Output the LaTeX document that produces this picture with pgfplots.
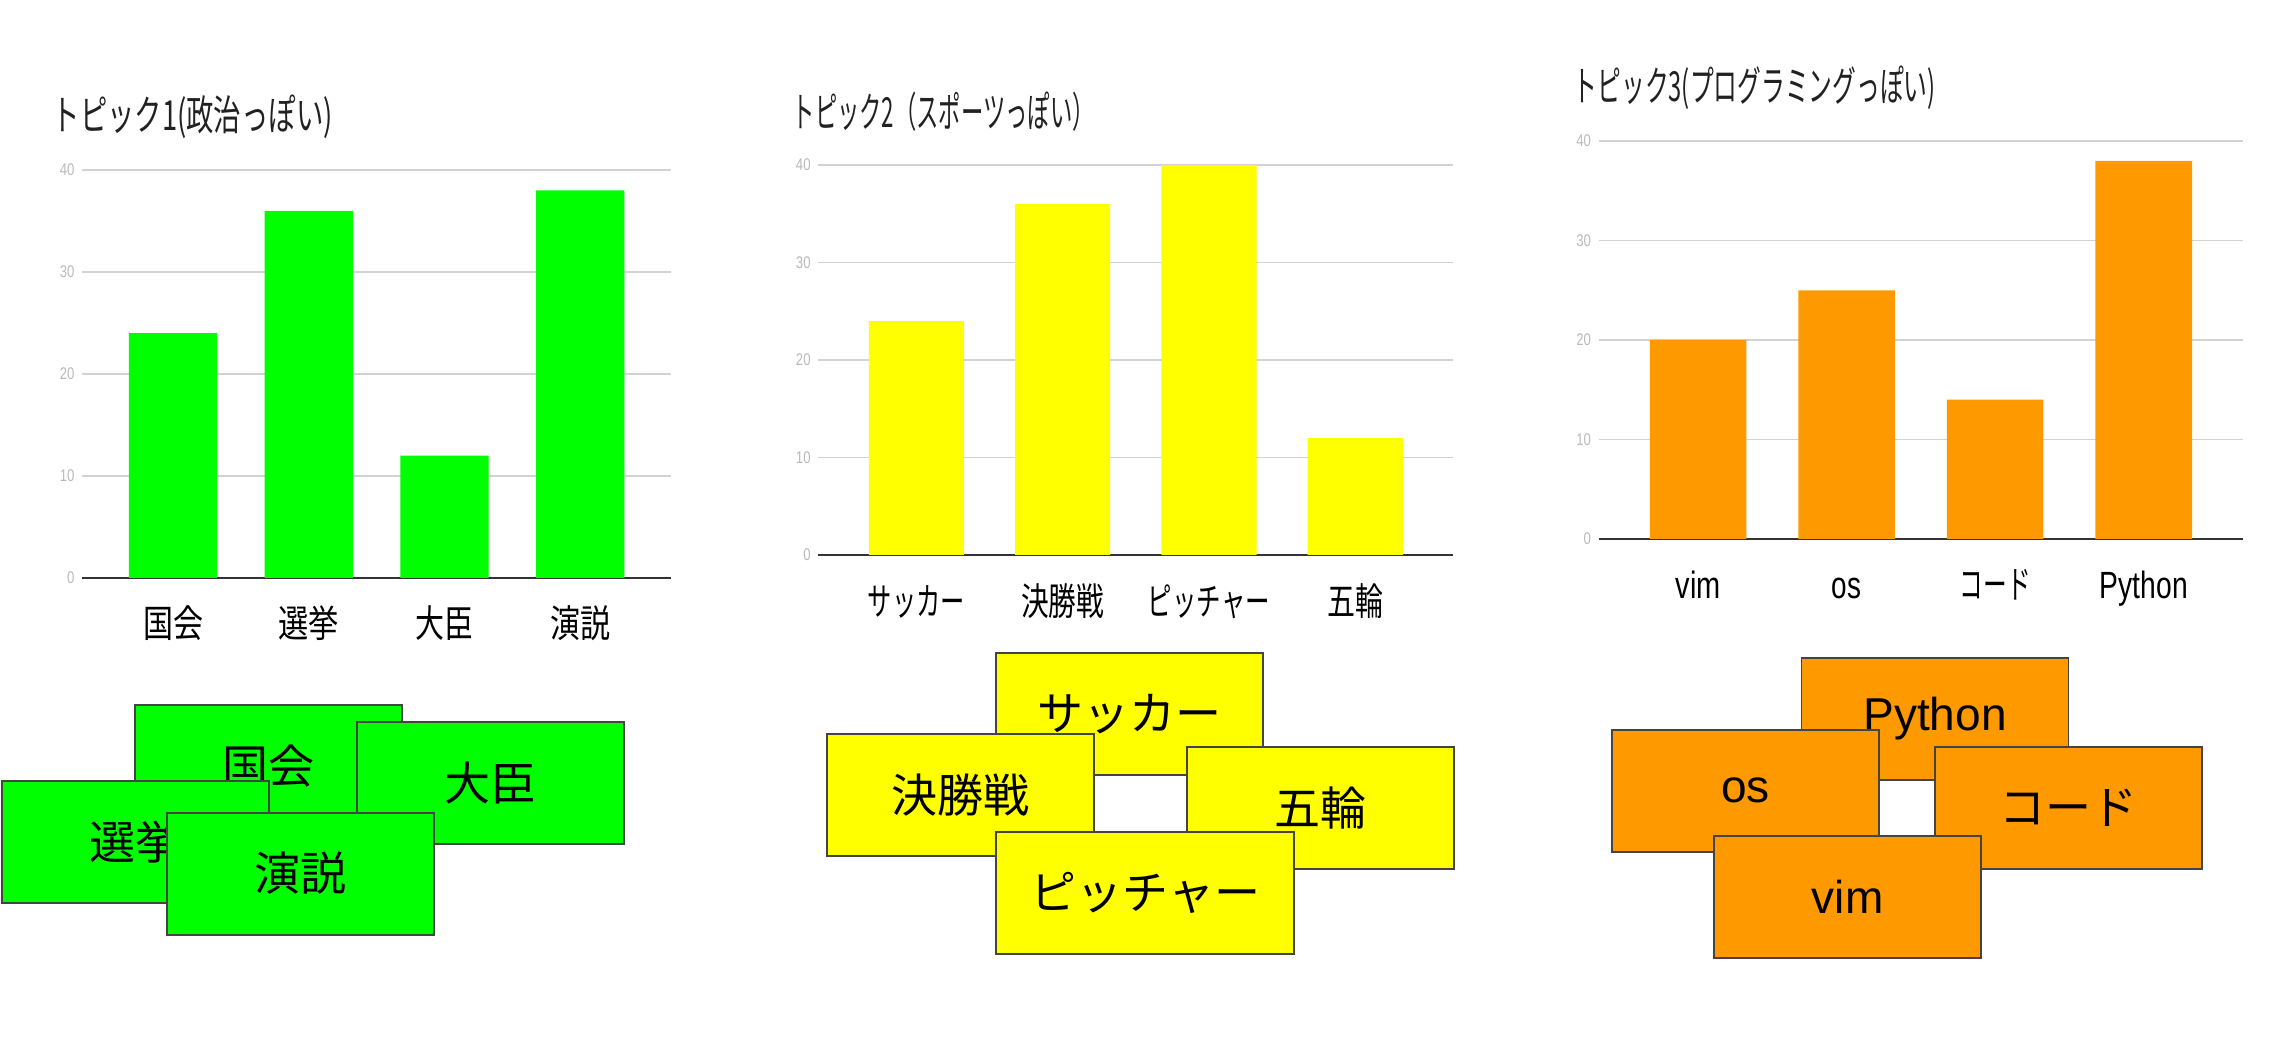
\documentclass[border=0pt]{standalone}
\usepackage{fontspec}
\usepackage{graphicx}
\usepackage{pgfplots}
\pgfplotsset{compat=1.18}
\setmainfont{Liberation Sans}
\newfontfamily\jp{Noto Sans CJK JP}
\newfontfamily\narrow[FakeStretch=0.78]{Liberation Sans}
\definecolor{cgreen}{RGB}{0,255,0}
\definecolor{cyellow}{RGB}{255,255,0}
\definecolor{corange}{RGB}{255,153,0}
\definecolor{gridc}{RGB}{210,210,210}
\definecolor{basec}{RGB}{51,51,51}
\definecolor{tickc}{RGB}{185,185,185}
\definecolor{boxline}{RGB}{68,68,68}
\definecolor{titlec}{RGB}{33,33,33}
\newcommand{\rw}[2]{\resizebox{#1}{\height}{#2}}
\newcommand{\xl}{\fontsize{10.8pt}{12pt}\selectfont}
\newcommand{\tl}{\fontsize{11.8pt}{13pt}\selectfont}
\pgfplotsset{
  chart/.style={
    scale only axis, anchor=south west,
    xmin=-0.67, xmax=3.67, ymin=0, ymax=40,
    ytick={0,10,20,30,40}, xtick={0,1,2,3},
    ymajorgrids, grid style={draw=gridc, line width=0.4pt},
    axis line style={draw=none}, major tick length=0pt,
    extra y ticks={0}, extra y tick labels={},
    extra y tick style={grid style={draw=basec, line width=0.6pt}},
    /pgf/number format/assume math mode=true,
    yticklabel style={font=\narrow\fontsize{4.8pt}{5pt}\selectfont, text=tickc, inner sep=0pt, xshift=-0.07cm},
    xticklabel style={font=\jp\xl, anchor=base, inner sep=0pt, yshift=-0.60cm, text=black},
  }
}
\tikzset{note/.style={draw=boxline, line width=0.55pt, minimum width=2.67cm, minimum height=1.22cm,
  anchor=north west, inner sep=0pt, font=\fontsize{13.1pt}{15pt}\selectfont}}
\begin{document}
\begin{tikzpicture}
\path[use as bounding box] (0cm,0cm) rectangle (22.72cm,10.42cm);
% ---------- chart 1 ----------
\begin{axis}[chart, at={(0.821cm,4.64cm)}, width=5.89cm, height=4.08cm,
  xticklabels={\rw{0.60cm}{国会},\rw{0.605cm}{選挙},\rw{0.58cm}{大臣},\rw{0.60cm}{演説}}]
\addplot[ybar, bar width=0.65, fill=cgreen, draw=none] coordinates {(0,24) (1,36) (2,12) (3,38)};
\end{axis}
% ---------- chart 2 ----------
\begin{axis}[chart, at={(8.183cm,4.87cm)}, width=6.35cm, height=3.90cm,
  xticklabels={\rw{0.97cm}{サッカー},\rw{0.83cm}{決勝戦},\rw{1.22cm}{ピッチャー},\rw{0.56cm}{五輪}}]
\addplot[ybar, bar width=0.65, fill=cyellow, draw=none] coordinates {(0,24) (1,36) (2,40) (3,12)};
\end{axis}
% ---------- chart 3 ----------
\begin{axis}[chart, at={(15.987cm,5.03cm)}, width=6.445cm, height=3.98cm,
  xticklabels={{\rmfamily\rw{0.45cm}{vim}},{\rmfamily\rw{0.295cm}{os}},\rw{0.71cm}{コード},{\rmfamily\rw{0.88cm}{Python}}}]
\addplot[ybar, bar width=0.65, fill=corange, draw=none] coordinates {(0,20) (1,25) (2,14) (3,38)};
\end{axis}
% ---------- titles ----------
\node[anchor=west, inner sep=0pt, text=titlec] at (0.52cm,9.25cm) {\jp\tl\rw{2.80cm}{トピック1(政治っぽい)}};
\node[anchor=west, inner sep=0pt, text=titlec] at (7.92cm,9.30cm) {\jp\tl\rw{3.02cm}{トピック2（スポーツっぽい）}};
\node[anchor=west, inner sep=0pt, text=titlec] at (15.73cm,9.54cm) {\jp\tl\rw{3.62cm}{トピック3(プログラミングっぽい)}};
% ---------- green notes ----------
\node[note, fill=cgreen] at (1.342cm,3.378cm) {\jp 国会};
\node[note, fill=cgreen] at (3.556cm,3.210cm) {\jp 大臣};
\node[note, fill=cgreen] at (0.014cm,2.617cm) {\jp 選挙};
\node[note, fill=cgreen] at (1.663cm,2.304cm) {\jp 演説};
% ---------- yellow notes ----------
\node[note, fill=cyellow] at (9.953cm,3.897cm) {\jp サッカー};
\node[note, fill=cyellow] at (8.262cm,3.087cm) {\jp 決勝戦};
\node[note, fill=cyellow] at (11.856cm,2.960cm) {\jp 五輪};
\node[note, fill=cyellow, minimum width=2.98cm] at (9.953cm,2.107cm) {\jp ピッチャー};
% ---------- orange notes ----------
\node[note, fill=corange] at (18.005cm,3.853cm) {Python};
\node[note, fill=corange] at (16.110cm,3.133cm) {os};
\node[note, fill=corange] at (19.340cm,2.963cm) {\jp コード};
\node[note, fill=corange] at (17.131cm,2.070cm) {vim};
\end{tikzpicture}
\end{document}
